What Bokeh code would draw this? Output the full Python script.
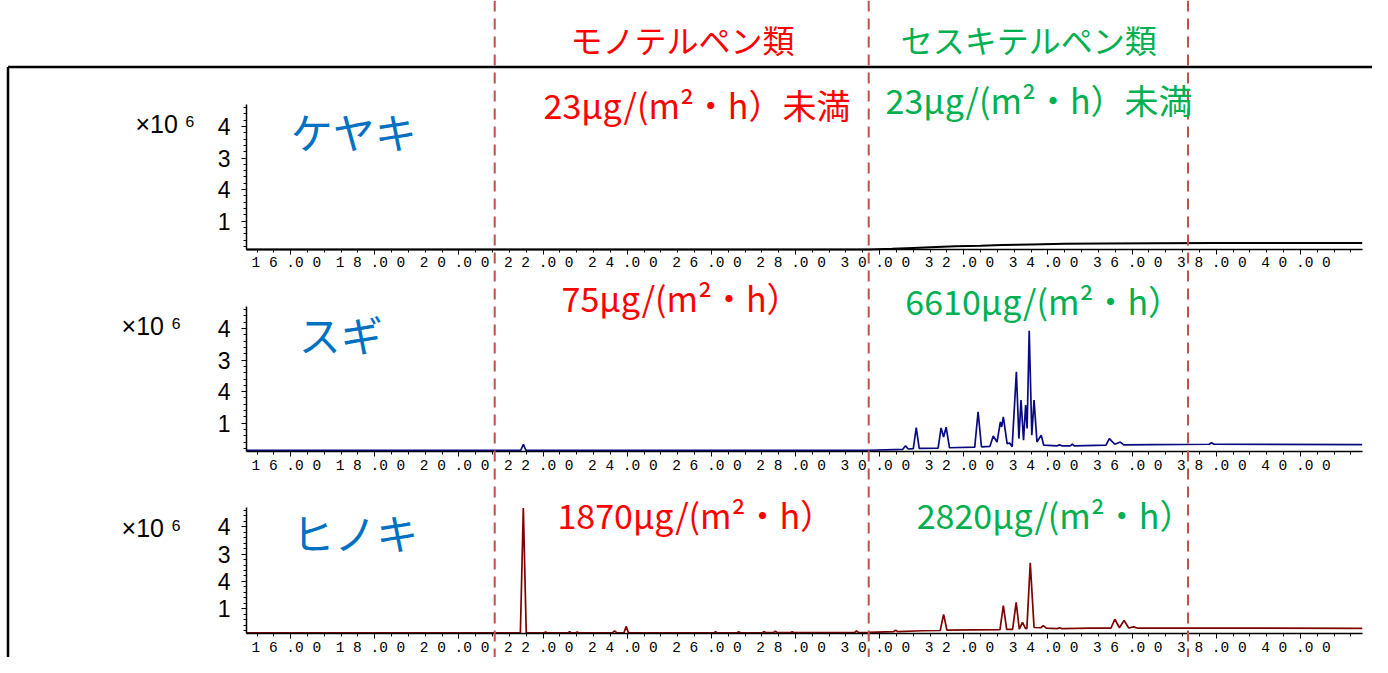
from bokeh.plotting import figure
from bokeh.models import Range1d, SingleIntervalTicker, Label, LinearAxis, Span
from bokeh.embed import file_html
from bokeh.resources import INLINE

# ---------------- data ----------------
X_START, X_END = 14.95, 41.47          # retention time axis extent (min)
Y_START, Y_END = 0.1, 4.7              # intensity axis extent (x10^6)
X_TICKS = [16, 18, 20, 22, 24, 26, 28, 30, 32, 34, 36, 38, 40]
X_TICK_LABELS = ["1 6 .0 0 ", "1 8 .0 0 ", "2 0 .0 0 ", "2 2 .0 0 ", "2 4 .0 0 ",
                 "2 6 .0 0 ", "2 8 .0 0 ", "3 0 .0 0 ", "3 2 .0 0 ", "3 4 .0 0 ",
                 "3 6 .0 0 ", "3 8 .0 0 ", "4 0 .0 0 "]
Y_TICKS = [1, 2, 3, 4]
Y_TICK_LABELS = ["1", "4", "3", "4"]
SCALE_LABEL = "×10 ⁶"

BOUNDARIES = [20.85, 29.74, 37.33]     # dashed separators (min)
GROUP_TITLES = ["モノテルペン類", "セスキテルペン類"]
SPECIES = ["ケヤキ", "スギ", "ヒノキ"]
MONO_EMISSION = ["23μg/(m²・h）未満", "75μg/(m²・h）", "1870μg/(m²・h）"]
SESQUI_EMISSION = ["23μg/(m²・h）未満", "6610μg/(m²・h）", "2820μg/(m²・h）"]

KEYAKI_TIME = [14.95, 29.74, 30.3, 30.8, 31.2, 31.8, 32.4, 32.9, 33.6, 34.4, 35.3, 36.5, 38.0, 41.47]
KEYAKI_SIGNAL = [0.10, 0.10, 0.12, 0.15, 0.17, 0.20, 0.22, 0.24, 0.26, 0.28, 0.29, 0.30, 0.31, 0.31]

SUGI_TIME = [14.95, 21.47, 21.53, 21.59, 28.5, 29.74, 30.55, 30.615, 30.68, 30.80, 30.87, 30.94,
             31.39, 31.46, 31.52, 31.58, 31.66, 32.26, 32.34, 32.42, 32.62, 32.70, 32.79, 32.87,
             32.90, 32.94, 33.03, 33.09, 33.15, 33.25, 33.31, 33.36, 33.42, 33.47, 33.505, 33.555,
             33.617, 33.67, 33.74, 33.84, 33.90, 34.22, 34.275, 34.33, 34.53, 34.58, 34.63, 35.38,
             35.46, 35.59, 35.72, 35.80, 36.5, 37.83, 37.89, 37.95, 41.47]
SUGI_SIGNAL = [0.14, 0.14, 0.33, 0.14, 0.14, 0.14, 0.17, 0.28, 0.18, 0.19, 0.86, 0.20,
               0.21, 0.85, 0.56, 0.87, 0.22, 0.24, 1.36, 0.25, 0.26, 0.59, 0.40, 1.04,
               0.88, 1.20, 0.35, 0.37, 0.25, 2.63, 0.51, 1.73, 0.46, 1.57, 0.83, 3.93,
               0.62, 1.73, 0.40, 0.62, 0.30, 0.28, 0.31, 0.28, 0.28, 0.33, 0.28, 0.30,
               0.51, 0.33, 0.40, 0.31, 0.32, 0.33, 0.38, 0.33, 0.32]

HINOKI_TIME = [14.95, 21.46, 21.53, 21.60, 22.02, 22.06, 22.10, 22.59, 22.63, 22.67, 22.77, 22.81,
               22.85, 23.65, 23.70, 23.75, 23.92, 23.975, 24.03, 26.05, 26.10, 26.15, 26.60, 26.65,
               26.70, 27.20, 27.25, 27.30, 27.47, 27.52, 27.57, 27.87, 27.92, 27.97, 29.40, 29.45,
               29.50, 29.74, 30.33, 30.38, 30.43, 31.0, 31.44, 31.52, 31.60, 32.86, 32.94, 33.02,
               33.16, 33.245, 33.32, 33.395, 33.47, 33.50, 33.58, 33.67, 33.83, 33.89, 33.96, 34.22,
               34.275, 34.33, 35.01, 35.50, 35.59, 35.70, 35.81, 35.92, 36.04, 36.12, 41.47]
HINOKI_SIGNAL = [0.12, 0.12, 4.68, 0.12, 0.12, 0.16, 0.12, 0.12, 0.17, 0.12, 0.12, 0.16,
                 0.12, 0.12, 0.20, 0.12, 0.12, 0.36, 0.12, 0.12, 0.16, 0.12, 0.12, 0.16,
                 0.12, 0.12, 0.17, 0.13, 0.13, 0.18, 0.13, 0.13, 0.16, 0.13, 0.13, 0.20,
                 0.13, 0.14, 0.17, 0.22, 0.17, 0.20, 0.21, 0.80, 0.22, 0.24, 1.115, 0.25,
                 0.25, 1.24, 0.26, 0.51, 0.28, 0.29, 2.68, 0.32, 0.31, 0.39, 0.30, 0.28,
                 0.31, 0.28, 0.30, 0.30, 0.62, 0.31, 0.58, 0.30, 0.34, 0.30, 0.29]

TRACES = [(KEYAKI_TIME, KEYAKI_SIGNAL, "#000000", 2.0),
          (SUGI_TIME, SUGI_SIGNAL, "#0A0A80", 1.7),
          (HINOKI_TIME, HINOKI_SIGNAL, "#7F0000", 1.7)]

# ---------------- layout / style ----------------
W, H = 1372, 657
X_VIEW = (9.1026, 41.715)                       # whole canvas width in minutes
PANEL_VIEW = [(-12.843, 7.999),                 # each panel's intensity scale over canvas height
              (-6.435, 14.408),
              (-0.776, 23.21)]
RANGE_NAMES = ["default", "p2", "p3"]

# annotation anchor positions (time, intensity) per panel
SPECIES_POS = [(16.00, 3.88), (16.19, 3.85), (16.04, 3.82)]
MONO_POS = [(22.01, 4.70), (22.44, 5.00), (22.34, 4.44)]
SESQUI_POS = [(30.14, 4.86), (30.61, 4.90), (30.88, 4.44)]
SCALE_POS = [(12.31, 4.07), (11.98, 4.08), (11.98, 3.97)]
TITLE_POS = [(22.65, 6.79), (30.50, 6.79)]
BORDER_X = 9.281
BORDER_TOP_Y = 5.89

RED, GREEN, BLUE = "#FF0000", "#00B050", "#0070C0"
DASH_COLOR = "#C0504D"
JP_FONT = "Noto Sans CJK JP"

x_over = {}
for t, lab in zip(X_TICKS, X_TICK_LABELS):
    x_over[t] = lab
y_over = {}
for t, lab in zip(Y_TICKS, Y_TICK_LABELS):
    y_over[t] = lab

p = figure(width=W, height=H,
           x_range=Range1d(*X_VIEW), y_range=Range1d(*PANEL_VIEW[0]),
           x_axis_type=None, y_axis_type=None,
           output_backend="svg", toolbar_location=None,
           min_border=0, min_border_left=0, min_border_right=0,
           min_border_top=0, min_border_bottom=0,
           outline_line_color=None, background_fill_color="white",
           border_fill_color="white")
p.extra_y_ranges = {"p2": Range1d(*PANEL_VIEW[1]), "p3": Range1d(*PANEL_VIEW[2])}

# dashed group separators across the whole height
for b in BOUNDARIES:
    p.add_layout(Span(location=b, dimension="height", line_color=DASH_COLOR,
                      line_width=2, line_dash="11 7"))

# frame border of the original figure
p.segment(x0=[BORDER_X, BORDER_X], y0=[BORDER_TOP_Y, BORDER_TOP_Y],
          x1=[X_VIEW[1] + 1, BORDER_X], y1=[BORDER_TOP_Y, PANEL_VIEW[0][0] - 1],
          line_color="black", line_width=2.5)

for i, rn in enumerate(RANGE_NAMES):
    xa = LinearAxis(y_range_name=rn, fixed_location=Y_START, bounds=(X_START, X_END),
                    ticker=SingleIntervalTicker(interval=2, num_minor_ticks=5),
                    major_label_overrides=x_over)
    xa.axis_line_width = 1.5
    xa.major_tick_in = 0
    xa.major_tick_out = 5
    xa.minor_tick_in = 0
    xa.minor_tick_out = 3
    xa.major_label_standoff = 1
    xa.major_label_text_font = "Liberation Mono"
    xa.major_label_text_font_size = "14.5px"
    xa.major_label_text_color = "black"
    p.add_layout(xa, "below")

    ya = LinearAxis(y_range_name=rn, fixed_location=X_START, bounds=(Y_START, Y_END),
                    ticker=SingleIntervalTicker(interval=1, num_minor_ticks=5),
                    major_label_overrides=y_over)
    ya.axis_line_width = 1.5
    ya.major_tick_in = 0
    ya.major_tick_out = 5
    ya.minor_tick_in = 0
    ya.minor_tick_out = 3
    ya.major_label_standoff = 11
    ya.major_label_text_font = "Liberation Sans"
    ya.major_label_text_font_size = "23px"
    ya.major_label_text_color = "black"
    p.add_layout(ya, "left")

    tx, ty, col, lw = TRACES[i]
    p.line(tx, ty, line_color=col, line_width=lw, y_range_name=rn)

    p.add_layout(Label(x=SCALE_POS[i][0], y=SCALE_POS[i][1], y_range_name=rn, text=SCALE_LABEL,
                       text_font="Liberation Sans", text_font_size="25px",
                       text_color="black", text_align="left", text_baseline="middle"))
    p.add_layout(Label(x=SPECIES_POS[i][0], y=SPECIES_POS[i][1], y_range_name=rn, text=SPECIES[i],
                       text_font=JP_FONT, text_font_size="42px",
                       text_color=BLUE, text_align="left", text_baseline="middle"))
    p.add_layout(Label(x=MONO_POS[i][0], y=MONO_POS[i][1], y_range_name=rn, text=MONO_EMISSION[i],
                       text_font=JP_FONT, text_font_size="34px",
                       text_color=RED, text_align="left", text_baseline="middle"))
    p.add_layout(Label(x=SESQUI_POS[i][0], y=SESQUI_POS[i][1], y_range_name=rn, text=SESQUI_EMISSION[i],
                       text_font=JP_FONT, text_font_size="34px",
                       text_color=GREEN, text_align="left", text_baseline="middle"))

for j, title in enumerate(GROUP_TITLES):
    p.add_layout(Label(x=TITLE_POS[j][0], y=TITLE_POS[j][1], text=title,
                       text_font=JP_FONT, text_font_size="32px",
                       text_color=[RED, GREEN][j], text_align="left",
                       text_baseline="middle"))

open("out.html", "w").write(file_html(p, INLINE))
